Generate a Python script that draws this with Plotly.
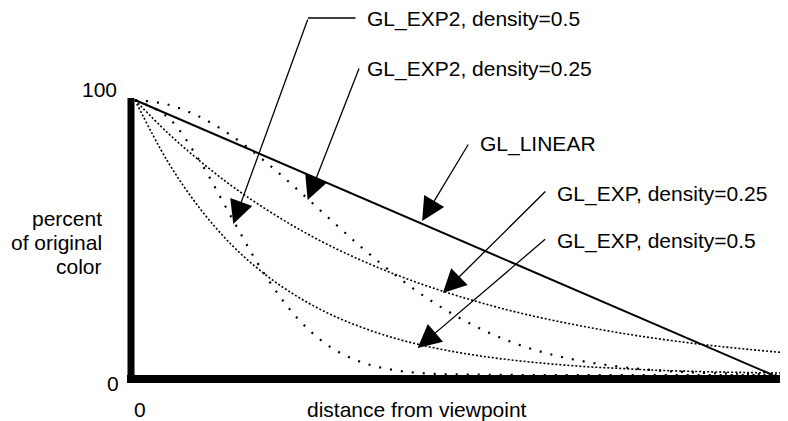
import plotly.graph_objects as go

# ---------------- data ----------------
distance = [0, 0.5, 1, 1.5, 2, 2.5, 3, 3.5, 4, 4.5, 5, 5.5, 6, 6.5, 7, 7.5, 8, 8.5, 9, 9.5, 10]
exp_025 = [100, 88.2, 77.9, 68.7, 60.7, 53.5, 47.2, 41.7, 36.8, 32.5, 28.7, 25.3, 22.3, 19.7,
           17.4, 15.3, 13.5, 11.9, 10.5, 9.3, 8.2]
exp_05 = [100, 77.9, 60.7, 47.2, 36.8, 28.7, 22.3, 17.4, 13.5, 10.5, 8.2, 6.4, 5.0, 3.9,
          3.0, 2.4, 1.8, 1.4, 1.1, 0.9, 0.7]
exp2_025 = [100, 98.4, 93.9, 86.9, 77.9, 67.7, 57.0, 46.5, 36.8, 28.2, 21.0, 15.1, 10.5, 7.1,
            4.7, 3.0, 1.8, 1.1, 0.6, 0.4, 0.2]
exp2_05 = [100, 93.9, 77.9, 57.0, 36.8, 21.0, 10.5, 4.7, 1.8, 0.6, 0.2, 0.1, 0, 0,
           0, 0, 0, 0, 0, 0, 0]
linear_distance = [0, 9.86]
linear_values = [100, 0]

labels = ["GL_EXP2, density=0.5", "GL_EXP2, density=0.25", "GL_LINEAR",
          "GL_EXP, density=0.25", "GL_EXP, density=0.5"]
y_tick_labels = ["100", "0"]
x_tick_labels = ["0"]
x_title = "distance from viewpoint"
y_title_lines = ["percent", "of original", "color"]

# ---------------- layout geometry ----------------
# the page body has an 8px margin, so the figure is 8px smaller and everything
# is expressed in window pixels through PX / PY
OFF = 8
W, H = 788 - OFF, 421 - OFF
ML, MR, MT, MB = 114, 3, 81, 38
PW, PH = W - ML - MR, H - MT - MB


def PX(px):
    return (px - OFF - ML) / PW


def PY(py):
    return (H - MB - (py - OFF)) / PH


FONT = "Liberation Sans, Arial, Helvetica, sans-serif"
FS = 21

fig = go.Figure()

fig.add_trace(go.Scatter(x=linear_distance, y=linear_values, mode="lines",
                         line=dict(color="black", width=2), hoverinfo="skip"))
fig.add_trace(go.Scatter(x=distance, y=exp_025, mode="lines", line_shape="spline",
                         line=dict(color="black", width=1.6, dash="2px,2px"), hoverinfo="skip"))
fig.add_trace(go.Scatter(x=distance, y=exp_05, mode="lines", line_shape="spline",
                         line=dict(color="black", width=1.6, dash="2px,2px"), hoverinfo="skip"))
fig.add_trace(go.Scatter(x=distance, y=exp2_025, mode="lines", line_shape="spline",
                         line=dict(color="black", width=2.2, dash="2px,9px"), hoverinfo="skip"))
fig.add_trace(go.Scatter(x=distance, y=exp2_05, mode="lines", line_shape="spline",
                         line=dict(color="black", width=2.2, dash="2px,9px"), hoverinfo="skip"))

# thick axes
fig.add_shape(type="line", xref="paper", yref="paper", x0=PX(131), x1=PX(131),
              y0=PY(383), y1=PY(98), line=dict(color="black", width=7))
fig.add_shape(type="line", xref="paper", yref="paper", x0=PX(127), x1=PX(785),
              y0=PY(379), y1=PY(379), line=dict(color="black", width=8))

# arrows: tip in data coords, tail as pixel offsets
arrows = [
    (1.52, 54.9, 75, -206),
    (2.67, 63.6, 52, -133),
    (4.44, 56.0, 47, -78),
    (4.76, 29.8, 104, -103),
    (4.37, 9.8, 129, -110),
]
for (tx, ty, ax, ay) in arrows:
    fig.add_annotation(x=tx, y=ty, xref="x", yref="y", ax=ax, ay=ay, axref="pixel", ayref="pixel",
                       text="", showarrow=True, arrowhead=2, arrowsize=3.6, arrowwidth=1.3,
                       arrowcolor="black", standoff=0)
# elbow of first leader
fig.add_annotation(x=PX(308), y=PY(18), xref="paper", yref="paper", ax=49, ay=0,
                   text="", showarrow=True, arrowhead=0, arrowwidth=1.5, arrowcolor="black")

label_pos = [(365, 19), (365, 69), (478, 144), (555, 194), (555, 241)]
for txt, (lx, ly) in zip(labels, label_pos):
    fig.add_annotation(x=PX(lx), y=PY(ly), xref="paper", yref="paper", text=txt,
                       showarrow=False, xanchor="left", yanchor="middle",
                       font=dict(family=FONT, size=FS, color="black"))

# y tick labels
fig.add_annotation(x=PX(119), y=PY(89), xref="paper", yref="paper", text=y_tick_labels[0],
                   showarrow=False, xanchor="right", yanchor="middle",
                   font=dict(family=FONT, size=FS, color="black"))
fig.add_annotation(x=PX(121), y=PY(383), xref="paper", yref="paper", text=y_tick_labels[1],
                   showarrow=False, xanchor="right", yanchor="middle",
                   font=dict(family=FONT, size=FS, color="black"))
# x tick label
fig.add_annotation(x=PX(140), y=PY(409), xref="paper", yref="paper", text=x_tick_labels[0],
                   showarrow=False, xanchor="center", yanchor="middle",
                   font=dict(family=FONT, size=FS, color="black"))
# x title
fig.add_annotation(x=PX(305), y=PY(409), xref="paper", yref="paper", text=x_title,
                   showarrow=False, xanchor="left", yanchor="middle",
                   font=dict(family=FONT, size=FS, color="black"))
# y title
for line, ly in zip(y_title_lines, [218, 242, 266]):
    fig.add_annotation(x=PX(104), y=PY(ly), xref="paper", yref="paper", text=line,
                       showarrow=False, xanchor="right", yanchor="middle",
                       font=dict(family=FONT, size=FS, color="black"))

fig.update_layout(
    width=W, height=H,
    margin=dict(l=ML, r=MR, t=MT, b=MB, pad=0),
    paper_bgcolor="white", plot_bgcolor="white",
    showlegend=False,
    xaxis=dict(range=[-0.2, 10.05], visible=False, fixedrange=True),
    yaxis=dict(range=[-2.9, 104], visible=False, fixedrange=True),
)

fig.write_html("out.html")
